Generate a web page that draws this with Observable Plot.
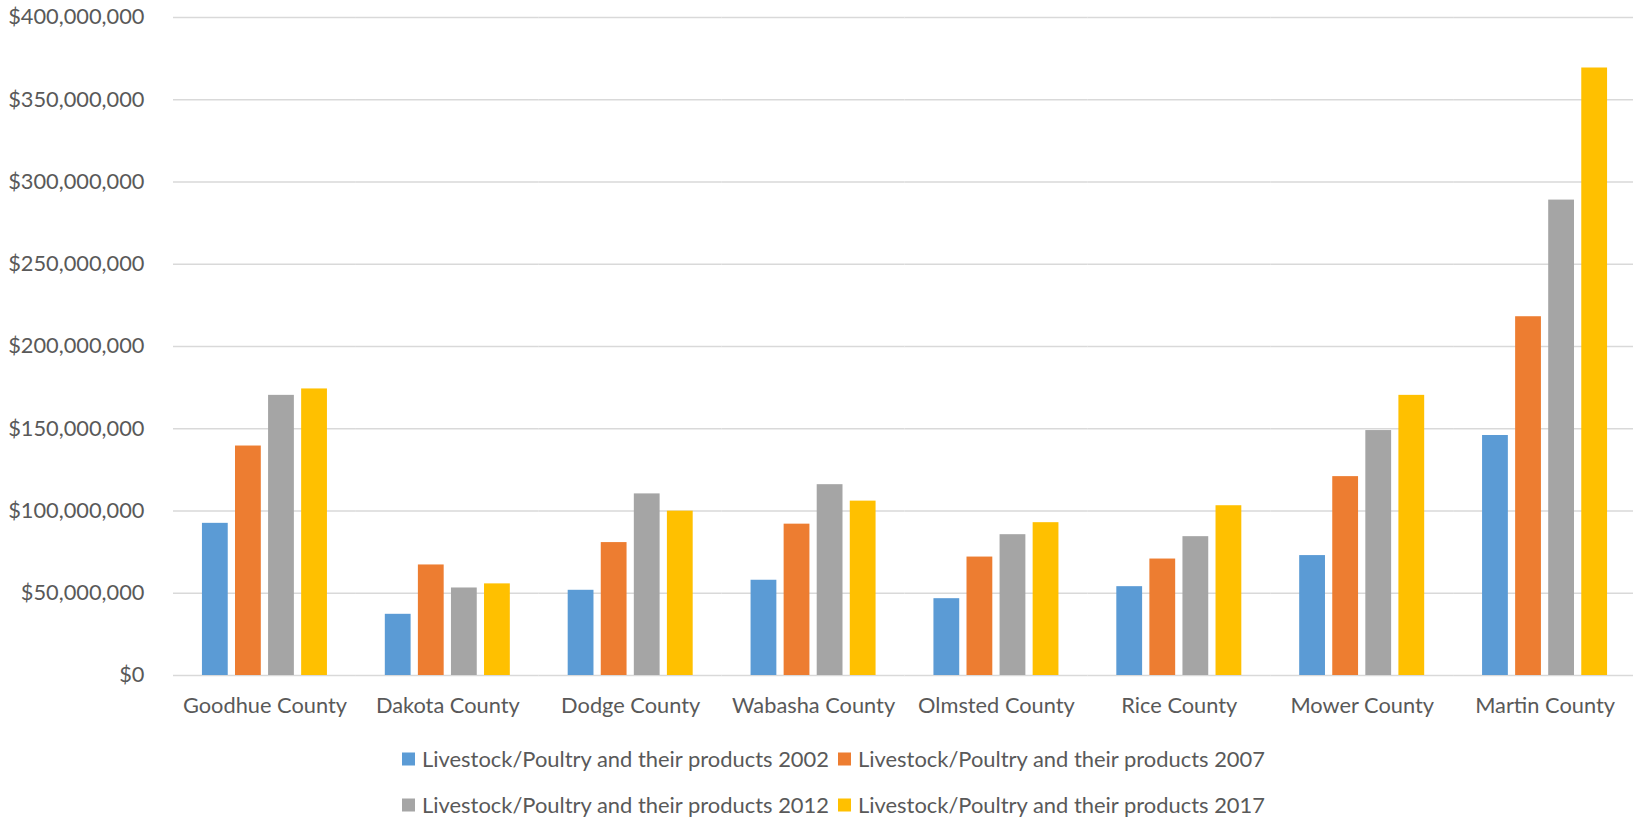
<!DOCTYPE html>
<html>
<head>
<meta charset="utf-8">
<script src="https://cdn.jsdelivr.net/npm/d3@7"></script>
<script src="https://cdn.jsdelivr.net/npm/@observablehq/plot@0.6"></script>
<style>
  html, body { margin: 0; padding: 0; background: #ffffff; }
  #wrap { position: relative; width: 1633px; height: 822px; overflow: hidden; }
</style>
</head>
<body>
<div id="wrap"></div>
<script>
const counties = ["Goodhue County", "Dakota County", "Dodge County", "Wabasha County", "Olmsted County", "Rice County", "Mower County", "Martin County"];
const years = ["2002", "2007", "2012", "2017"];
const seriesLabels = ["Livestock/Poultry and their products 2002", "Livestock/Poultry and their products 2007", "Livestock/Poultry and their products 2012", "Livestock/Poultry and their products 2017"];
const colors = ["#5b9bd5", "#ed7d31", "#a5a5a5", "#ffc000"];
const v2002 = [92.5e6, 37.2e6, 51.8e6, 57.9e6, 46.7e6, 54.0e6, 72.9e6, 145.9e6];
const v2007 = [139.5e6, 67.2e6, 80.8e6, 92.0e6, 72.0e6, 70.8e6, 120.9e6, 218.1e6];
const v2012 = [170.3e6, 53.2e6, 110.4e6, 116.0e6, 85.6e6, 84.4e6, 148.9e6, 289.0e6];
const v2017 = [174.2e6, 55.7e6, 99.9e6, 106.0e6, 92.9e6, 103.2e6, 170.3e6, 369.3e6];
const yTicks = [0, 50e6, 100e6, 150e6, 200e6, 250e6, 300e6, 350e6, 400e6];

const seriesValues = [v2002, v2007, v2012, v2017];
const data = [];
counties.forEach((c, i) => {
  years.forEach((y, j) => {
    data.push({county: c, year: y, value: seriesValues[j][i]});
  });
});

const fmt = d3.format(",");
const chart = Plot.plot({
  width: 1633,
  height: 730,
  marginLeft: 173,
  marginRight: -3,
  marginTop: 17,
  marginBottom: 55,
  style: {fontFamily: "Lato, 'Open Sans', sans-serif", fontSize: "21.8px", color: "#595959", background: "#ffffff", overflow: "visible"},
  fx: {domain: counties, padding: 0, round: false, label: null},
  x: {domain: years, paddingInner: 0.22, paddingOuter: 0.875, round: false, axis: null},
  y: {domain: [0, 400e6], label: null},
  color: {domain: years, range: colors},
  marks: [
    Plot.gridY(yTicks, {stroke: "#d9d9d9", strokeOpacity: 1, strokeWidth: 1.5}),
    Plot.barY(data, {fx: "county", x: "year", y: "value", fill: "year"}),
    Plot.axisY(yTicks, {tickSize: 0, tickPadding: 29, tickFormat: d => "$" + fmt(d), label: null, fill: "#595959"}),
    Plot.axisFx({anchor: "bottom", tickSize: 0, tickPadding: 22.5, label: null, fill: "#595959"})
  ]
});
chart.style.position = "absolute";
chart.style.left = "0px";
chart.style.top = "0px";
document.getElementById("wrap").appendChild(chart);

// Legend (two rows of two items)
const legend = d3.create("svg")
  .attr("width", 1633)
  .attr("height", 92)
  .style("position", "absolute")
  .style("left", "0px")
  .style("top", "730px")
  .style("font-family", "Lato, 'Open Sans', sans-serif");
const colX = [402, 838];
const rowY = [29, 75];
seriesLabels.forEach((label, i) => {
  const cx = colX[i % 2];
  const cy = rowY[Math.floor(i / 2)];
  const g = legend.append("g").attr("transform", `translate(${cx},${cy})`);
  g.append("rect").attr("x", 0).attr("y", -6.5).attr("width", 13).attr("height", 13).attr("fill", colors[i]);
  g.append("text")
    .attr("x", 20)
    .attr("y", 0)
    .attr("dy", "0.36em")
    .attr("fill", "#595959")
    .attr("font-size", "20.8px")
    .attr("textLength", 407)
    .attr("lengthAdjust", "spacingAndGlyphs")
    .text(label);
});
document.getElementById("wrap").appendChild(legend.node());
</script>
</body>
</html>
